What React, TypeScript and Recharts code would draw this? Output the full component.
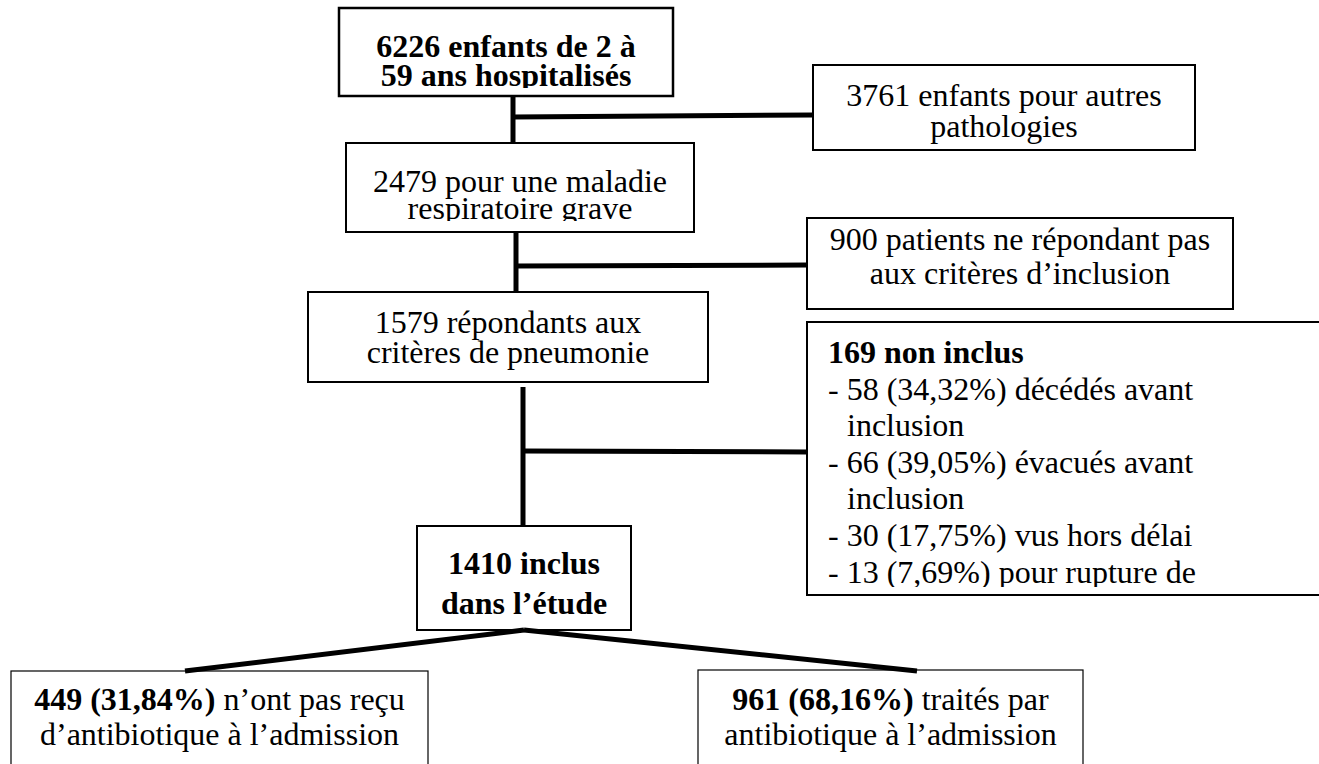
import { ScatterChart, XAxis, YAxis, ReferenceArea, ReferenceLine } from 'recharts'

// flow counts, in reading order
const nodeCounts = [6226, 3761, 2479, 900, 1579, 169, 1410, 449, 961]
const groupPercents = ['31,84%', '68,16%']
const exclusionCounts = [58, 66, 30, 13]
const exclusionPercents = ['34,32%', '39,05%', '17,75%', '7,69%']

type Run = { t: string; b?: boolean }
type Line = { runs: Run[]; indent?: number }

const bold = (t: string): Run => ({ t, b: true })
const reg = (t: string): Run => ({ t })

const nodeLines: Line[][] = [
  [{ runs: [bold(`${nodeCounts[0]} enfants de 2 à`)] }, { runs: [bold('59 ans hospitalisés')] }],
  [{ runs: [reg(`${nodeCounts[1]} enfants pour autres`)] }, { runs: [reg('pathologies')] }],
  [{ runs: [reg(`${nodeCounts[2]} pour une maladie`)] }, { runs: [reg('respiratoire grave')] }],
  [{ runs: [reg(`${nodeCounts[3]} patients ne répondant pas`)] }, { runs: [reg('aux critères d’inclusion')] }],
  [{ runs: [reg(`${nodeCounts[4]} répondants aux`)] }, { runs: [reg('critères de pneumonie')] }],
  [
    { runs: [bold(`${nodeCounts[5]} non inclus`)] },
    { runs: [reg(`- ${exclusionCounts[0]} (${exclusionPercents[0]}) décédés avant`)] },
    { runs: [reg('inclusion')], indent: 19 },
    { runs: [reg(`- ${exclusionCounts[1]} (${exclusionPercents[1]}) évacués avant`)] },
    { runs: [reg('inclusion')], indent: 19 },
    { runs: [reg(`- ${exclusionCounts[2]} (${exclusionPercents[2]}) vus hors délai`)] },
    { runs: [reg(`- ${exclusionCounts[3]} (${exclusionPercents[3]}) pour rupture de`)] },
  ],
  [{ runs: [bold(`${nodeCounts[6]} inclus`)] }, { runs: [bold('dans l’étude')] }],
  [
    { runs: [bold(`${nodeCounts[7]} (${groupPercents[0]})`), reg(' n’ont pas reçu')] },
    { runs: [reg('d’antibiotique à l’admission')] },
  ],
  [
    { runs: [bold(`${nodeCounts[8]} (${groupPercents[1]})`), reg(' traités par')] },
    { runs: [reg('antibiotique à l’admission')] },
  ],
]

// box geometry (axis units = page pixels)
const boxes = [
  { x1: 339, x2: 673, y1: 8, y2: 96, sw: 2.5, base: 57, lh: 29, clip: 88 },
  { x1: 813, x2: 1195, y1: 65, y2: 150, sw: 2, base: 106, lh: 31 },
  { x1: 346, x2: 694, y1: 143, y2: 232, sw: 2, base: 192, lh: 27, clip: 221 },
  { x1: 807, x2: 1233, y1: 218, y2: 309, sw: 2, base: 250, lh: 34 },
  { x1: 308, x2: 708, y1: 292, y2: 382, sw: 2, base: 333, lh: 30, clip: 371 },
  { x1: 807, x2: 1340, y1: 322, y2: 595, sw: 2, base: 363, lh: 36.6, clip: 587, left: 21 },
  { x1: 417, x2: 631, y1: 526, y2: 630, sw: 2, base: 574, lh: 40 },
  { x1: 11, x2: 428, y1: 671, y2: 800, sw: 1.2, base: 710, lh: 35 },
  { x1: 698, x2: 1083, y1: 670, y2: 800, sw: 1.2, base: 710, lh: 35 },
]

const connectors = [
  [{ x: 513, y: 96 }, { x: 513, y: 143 }],
  [{ x: 513, y: 117 }, { x: 813, y: 115 }],
  [{ x: 516, y: 232 }, { x: 516, y: 292 }],
  [{ x: 516, y: 266 }, { x: 807, y: 265 }],
  [{ x: 523, y: 387 }, { x: 523, y: 526 }],
  [{ x: 523, y: 451 }, { x: 807, y: 452 }],
  [{ x: 524, y: 630 }, { x: 185, y: 671 }],
  [{ x: 524, y: 630 }, { x: 917, y: 671 }],
]

const FONT = '"Liberation Serif", "Times New Roman", serif'

function BoxShape(props: any) {
  const { x, y, width, height, idx } = props
  const b = boxes[idx]
  const lines = nodeLines[idx]
  const clipId = `box-clip-${idx}`
  const clipH = b.clip ? b.clip - b.y1 : height
  const anchor = b.left ? 'start' : 'middle'
  const tx = b.left ? x + b.left : x + width / 2
  return (
    <g>
      <defs>
        <clipPath id={clipId}>
          <rect x={x} y={y} width={width} height={clipH} />
        </clipPath>
      </defs>
      <rect x={x} y={y} width={width} height={height} fill="#fff" stroke="#000" strokeWidth={b.sw} />
      <g clipPath={`url(#${clipId})`}>
        {lines.map((ln, i) => (
          <text
            key={i}
            x={tx + (ln.indent ?? 0)}
            y={y + (b.base - b.y1) + i * b.lh}
            textAnchor={anchor}
            fontFamily={FONT}
            fontSize={32}
            fill="#000"
          >
            {ln.runs.map((r, j) => (
              <tspan key={j} fontWeight={r.b ? 'bold' : 'normal'}>
                {r.t}
              </tspan>
            ))}
          </text>
        ))}
      </g>
    </g>
  )
}

export default function App() {
  return (
    <div style={{ position: 'absolute', left: 0, top: 0, background: '#fff' }}>
      <ScatterChart width={1319} height={764} margin={{ top: 0, right: 0, bottom: 0, left: 0 }}>
        <XAxis type="number" dataKey="x" domain={[0, 1319]} hide allowDataOverflow />
        <YAxis type="number" dataKey="y" domain={[0, 764]} reversed hide allowDataOverflow />
        {connectors.map((seg, i) => (
          <ReferenceLine key={`c${i}`} segment={seg} stroke="#000" strokeWidth={5} ifOverflow="visible" />
        ))}
        {boxes.map((b, i) => (
          <ReferenceArea
            key={`b${i}`}
            x1={b.x1}
            x2={b.x2}
            y1={b.y1}
            y2={b.y2}
            ifOverflow="visible"
            shape={(p: any) => <BoxShape {...p} idx={i} />}
          />
        ))}
      </ScatterChart>
    </div>
  )
}
